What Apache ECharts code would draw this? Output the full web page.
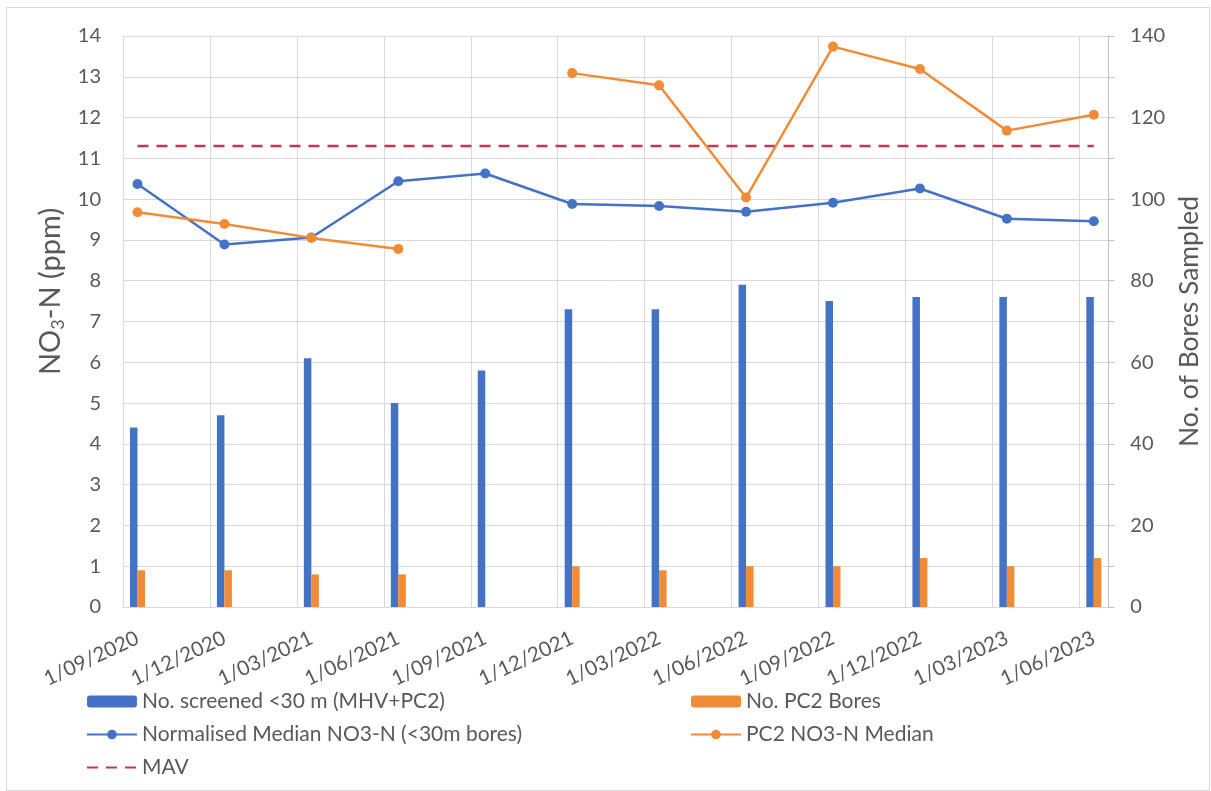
<!DOCTYPE html>
<html>
<head>
<meta charset="utf-8">
<script src="https://cdn.jsdelivr.net/npm/echarts@6/dist/echarts.min.js"></script>
<style>
  html, body { margin: 0; padding: 0; background: #ffffff; }
  #chart { width: 1211px; height: 791px; }
  #frame { position: absolute; left: 6px; top: 7px; width: 1204px; height: 784px;
           border: 1px solid #d9d9d9; box-sizing: border-box; pointer-events: none; }
</style>
</head>
<body>
<div id="chart"></div>
<div id="frame"></div>
<script>
// Quarterly sampling rounds
const sampleDates = ['1/09/2020', '1/12/2020', '1/03/2021', '1/06/2021', '1/09/2021', '1/12/2021',
                     '1/03/2022', '1/06/2022', '1/09/2022', '1/12/2022', '1/03/2023', '1/06/2023'];

// Bore counts (right axis)
const boresScreened = [44, 47, 61, 50, 58, 73, 73, 79, 75, 76, 76, 76];
const boresPC2      = [9, 9, 8, 8, null, 10, 9, 10, 10, 12, 10, 12];

// Nitrate medians, ppm (left axis)
const medianShallow = [10.37, 8.89, 9.06, 10.44, 10.63, 9.88, 9.83, 9.69, 9.91, 10.26, 9.52, 9.46];
const medianPC2     = [9.68, 9.39, 9.05, 8.78, null, 13.09, 12.79, 10.04, 13.74, 13.19, 11.68, 12.07];
const mavValue = 11.3;

// Axis ranges
const leftAxisRange  = [0, 14, 1];
const rightAxisRange = [0, 140, 10];
const rightLabelStep = 20;

const FONT = 'Lato';
const TEXT = '#595959';
const GRID = '#d9d9d9';
const BLUE = '#4472C4';
const ORANGE = '#F08C36';
const MAV_RED = '#C8354F';

// Month-based date axis: one band per month, samples sit mid-month
function parseDate(s) {
  const p = s.split('/');
  return { m: +p[1], y: +p[2] };
}
const first = parseDate(sampleDates[0]);
const monthIndex = d => (d.y - first.y) * 12 + (d.m - first.m);
const sampleIdx = sampleDates.map(s => monthIndex(parseDate(s)));
const monthCount = sampleIdx[sampleIdx.length - 1] + 1;

const months = [];
for (let i = 0; i < monthCount; i++) {
  const t = first.m - 1 + i;
  const m = (t % 12) + 1;
  const y = first.y + Math.floor(t / 12);
  months.push('1/' + String(m).padStart(2, '0') + '/' + y);
}
const sampleSet = new Set(sampleIdx);

const onMonths = vals => {
  const arr = new Array(monthCount).fill(null);
  sampleIdx.forEach((k, i) => { arr[k] = vals[i]; });
  return arr;
};
const asPoints = vals => sampleIdx.map((k, i) => [k + 0.5, vals[i]]);

const chart = echarts.init(document.getElementById('chart'), null, { renderer: 'canvas' });

const legendText = { fontFamily: FONT, fontSize: 21, color: TEXT };

chart.setOption({
  animation: false,
  backgroundColor: '#ffffff',
  textStyle: { fontFamily: FONT },
  grid: { left: 123, right: 99, top: 36, bottom: 184, containLabel: false },
  legend: [
    {
      orient: 'vertical', left: 86, top: 691, itemGap: 12, padding: 0,
      itemWidth: 50, itemHeight: 12, textStyle: legendText,
      data: [
        'No. screened <30 m (MHV+PC2)',
        'Normalised Median NO3-N (<30m bores)',
        { name: 'MAV', itemStyle: { opacity: 0 } }
      ]
    },
    {
      orient: 'vertical', left: 690, top: 691, itemGap: 12, padding: 0,
      itemWidth: 50, itemHeight: 12, textStyle: legendText,
      data: ['No. PC2 Bores', 'PC2 NO3-N Median']
    }
  ],
  xAxis: [
    {
      type: 'value', min: 0, max: monthCount, interval: 3,
      axisLine: { show: true, lineStyle: { color: GRID, width: 1 } },
      axisTick: { show: false },
      axisLabel: { show: false },
      splitLine: { show: true, lineStyle: { color: GRID, width: 1 } }
    },
    {
      type: 'category', data: months, boundaryGap: true, position: 'bottom',
      axisLine: { show: false },
      axisTick: { show: false },
      splitLine: { show: false },
      axisLabel: {
        interval: idx => sampleSet.has(idx),
        rotate: 25, margin: 30,
        fontFamily: FONT, fontSize: 20.5, color: TEXT
      }
    }
  ],
  yAxis: [
    {
      type: 'value', position: 'left',
      min: leftAxisRange[0], max: leftAxisRange[1], interval: leftAxisRange[2],
      name: 'NO{s|3}-N (ppm)', nameLocation: 'middle', nameRotate: 90, nameGap: 35,
      nameTextStyle: {
        fontFamily: FONT, fontSize: 29, color: TEXT, padding: [0, 0, 0, 60],
        rich: { s: { fontFamily: FONT, fontSize: 18, color: TEXT, verticalAlign: 'bottom', padding: [15, 0, 0, 0] } }
      },
      axisLine: { show: true, lineStyle: { color: GRID } },
      axisTick: { show: false },
      axisLabel: { fontFamily: FONT, fontSize: 20, color: TEXT, margin: 22 },
      splitLine: { show: true, lineStyle: { color: GRID, width: 1 } }
    },
    {
      type: 'value', position: 'right',
      min: rightAxisRange[0], max: rightAxisRange[1], interval: rightAxisRange[2],
      name: 'No. of Bores Sampled', nameLocation: 'middle', nameRotate: 90, nameGap: 63,
      nameTextStyle: { fontFamily: FONT, fontSize: 26.5, color: TEXT },
      axisLine: { show: true, lineStyle: { color: '#bfbfbf' } },
      axisTick: { show: true, inside: false, length: 6, lineStyle: { color: '#bfbfbf' } },
      axisLabel: {
        fontFamily: FONT, fontSize: 20, color: TEXT, margin: 22,
        formatter: v => (v % rightLabelStep === 0 ? String(v) : '')
      },
      splitLine: { show: false }
    }
  ],
  series: [
    {
      name: 'No. screened <30 m (MHV+PC2)', type: 'bar',
      xAxisIndex: 1, yAxisIndex: 1,
      data: onMonths(boresScreened),
      barWidth: 7.5, barGap: '0%',
      itemStyle: { color: BLUE }, z: 2
    },
    {
      name: 'No. PC2 Bores', type: 'bar',
      xAxisIndex: 1, yAxisIndex: 1,
      data: onMonths(boresPC2),
      barWidth: 7.5, barGap: '0%',
      itemStyle: { color: ORANGE }, z: 2
    },
    {
      name: 'Normalised Median NO3-N (<30m bores)', type: 'line',
      xAxisIndex: 0, yAxisIndex: 0,
      data: asPoints(medianShallow),
      symbol: 'circle', symbolSize: 10, showSymbol: true,
      lineStyle: { color: BLUE, width: 2.5 },
      itemStyle: { color: BLUE },
      z: 4
    },
    {
      name: 'PC2 NO3-N Median', type: 'line',
      xAxisIndex: 0, yAxisIndex: 0,
      data: asPoints(medianPC2),
      connectNulls: false,
      symbol: 'circle', symbolSize: 10, showSymbol: true,
      lineStyle: { color: ORANGE, width: 2.5 },
      itemStyle: { color: ORANGE },
      z: 4
    },
    {
      name: 'MAV', type: 'line',
      xAxisIndex: 0, yAxisIndex: 0,
      data: asPoints(sampleDates.map(() => mavValue)),
      symbol: 'none',
      lineStyle: { color: MAV_RED, width: 2.5, type: [11, 8] },
      itemStyle: { color: MAV_RED },
      z: 3
    }
  ]
});
</script>
</body>
</html>
